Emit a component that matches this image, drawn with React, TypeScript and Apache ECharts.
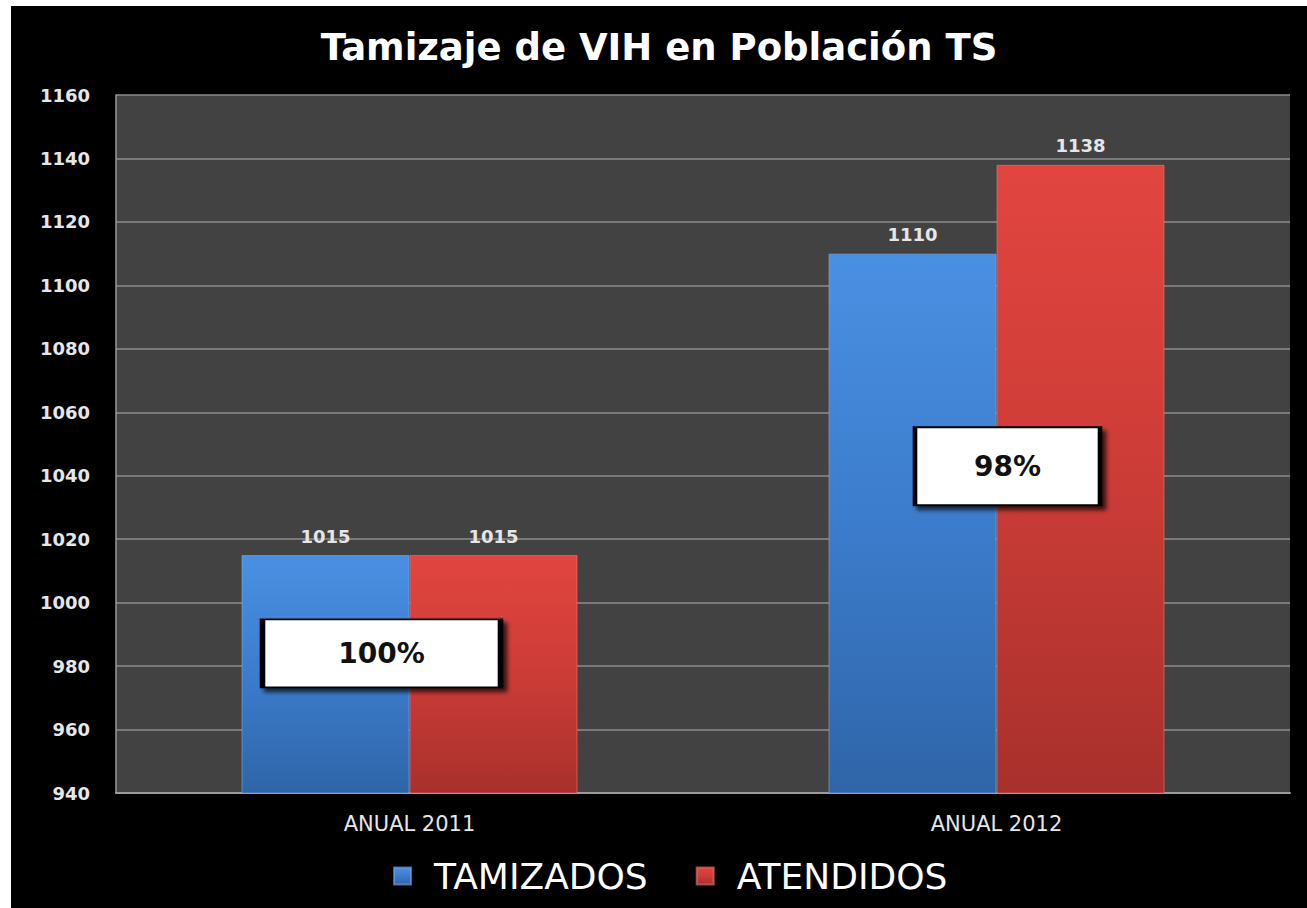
import React, { useEffect, useRef } from "react";
import * as echarts from "echarts";

const categories = ["ANUAL 2011", "ANUAL 2012"];
const tamizados = [1015, 1110];
const atendidos = [1015, 1138];
const yTicks = { min: 940, max: 1160, interval: 20 };
const ratioLabels = ["100%", "98%"];
// anchor value (data coords) of each ratio box
const ratioAnchors = [984, 1043];

export default function App() {
  const ref = useRef<HTMLDivElement>(null);
  useEffect(() => {
    document.body.style.margin = "0";
    const chart = echarts.init(ref.current!, null, { renderer: "svg" });
    const valueFont = {
      color: "#e6e6e6",
      fontFamily: "DejaVu Sans",
      fontWeight: "bold" as const,
      fontSize: 18,
    };
    chart.setOption({
      animation: false,
      backgroundColor: "#000000",
      title: {
        text: "Tamizaje de VIH en Población TS",
        left: "center",
        top: 18,
        textStyle: {
          color: "#ffffff",
          fontFamily: "DejaVu Sans",
          fontWeight: "bold",
          fontSize: 37,
        },
      },
      legend: {
        data: ["TAMIZADOS", "ATENDIDOS"],
        left: 377,
        top: 847,
        itemWidth: 17,
        itemHeight: 17,
        itemGap: 48,
        icon: "rect",
        textStyle: {
          color: "#ffffff",
          fontFamily: "DejaVu Sans",
          fontSize: 36,
          padding: [0, 0, 0, 18],
        },
      },
      grid: {
        left: 105,
        top: 89,
        right: 17,
        bottom: 115,
        show: true,
        backgroundColor: "#424242",
        borderWidth: 0,
      },
      xAxis: {
        type: "category",
        data: categories,
        axisLine: { show: true, lineStyle: { color: "#9a9a9a", width: 2 } },
        axisTick: { show: false },
        axisLabel: {
          color: "#e6e6e6",
          fontFamily: "DejaVu Sans",
          fontSize: 21,
          margin: 20,
        },
      },
      yAxis: {
        type: "value",
        min: yTicks.min,
        max: yTicks.max,
        interval: yTicks.interval,
        axisLine: { show: true, lineStyle: { color: "#9a9a9a", width: 1.5 } },
        axisTick: { show: false },
        splitLine: { lineStyle: { color: "#8e8e8e", width: 1.5 } },
        axisLabel: { ...valueFont, margin: 26, formatter: (v: number) => String(v) },
      },
      series: [
        {
          name: "TAMIZADOS",
          type: "bar",
          data: tamizados,
          barWidth: 168,
          barGap: "0%",
          itemStyle: {
            color: new echarts.graphic.LinearGradient(0, 0, 0, 1, [
              { offset: 0, color: "#4a90e2" },
              { offset: 0.5, color: "#3c7ccc" },
              { offset: 1, color: "#2f65a8" },
            ]),
            borderColor: "rgba(120,170,235,0.6)",
            borderWidth: 1,
          },
          label: { show: true, position: "top", distance: 10, ...valueFont },
          markPoint: {
            symbol: "rect",
            data: ratioLabels.map((t, i) => ({
              coord: [categories[i], ratioAnchors[i]],
              value: t,
              symbolSize: i === 0 ? [238, 68] : [185, 78],
              symbolOffset: i === 0 ? [56, 0] : [95, 0],
            })),
            itemStyle: {
              color: "#ffffff",
              borderColor: "#000000",
              borderWidth: 3,
              shadowColor: "rgba(0,0,0,0.7)",
              shadowBlur: 4,
              shadowOffsetX: 4,
              shadowOffsetY: 4,
            },
            label: {
              show: true,
              position: "inside",
              formatter: (p: any) => p.value,
              color: "#111111",
              fontFamily: "DejaVu Sans",
              fontWeight: "bold",
              fontSize: 28,
            },
          },
        },
        {
          name: "ATENDIDOS",
          type: "bar",
          data: atendidos,
          barWidth: 168,
          barGap: "0%",
          itemStyle: {
            color: new echarts.graphic.LinearGradient(0, 0, 0, 1, [
              { offset: 0, color: "#e2453f" },
              { offset: 0.5, color: "#cc3c37" },
              { offset: 1, color: "#a8302c" },
            ]),
            borderColor: "rgba(240,120,110,0.6)",
            borderWidth: 1,
          },
          label: { show: true, position: "top", distance: 10, ...valueFont },
        },
      ],
    });
    return () => chart.dispose();
  }, []);
  return (
    <div style={{ position: "absolute", left: 0, top: 0, width: 1307, height: 908, background: "#ffffff" }}>
      <div
        ref={ref}
        style={{ position: "absolute", left: 11, top: 6, width: 1296, height: 902 }}
      />
    </div>
  );
}
